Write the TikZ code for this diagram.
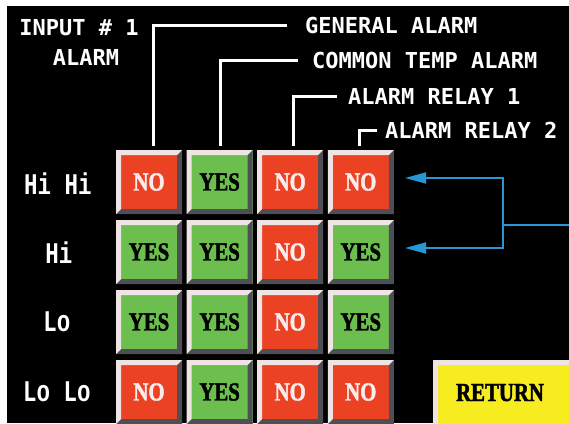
\documentclass[tikz,border=0pt]{standalone}
\usepackage{fontspec}
\usetikzlibrary{arrows.meta}
\newfontfamily\topfnt{DejaVu Sans Mono}
\newfontfamily\rowfnt{Liberation Mono}[FakeStretch=0.75]
\newfontfamily\cellfnt{Liberation Serif}[FakeStretch=0.8,FakeBold=1.6]
\definecolor{cred}{RGB}{236,66,36}
\definecolor{cgreen}{RGB}{108,190,78}
\definecolor{cyellow}{RGB}{246,236,32}
\definecolor{cblue}{RGB}{38,150,214}
\definecolor{nowhite}{RGB}{250,236,236}
\definecolor{bevlight}{RGB}{238,228,228}
\definecolor{bevdark}{RGB}{78,78,84}
\begin{document}
\begin{tikzpicture}[x=1pt,y=-1pt,
  bevel/.style={path picture={
    \fill[bevdark] (path picture bounding box.south west) -- (path picture bounding box.south east)
      -- (path picture bounding box.north east) -- ([shift={(-5,5)}]path picture bounding box.north east)
      -- ([shift={(-5,-5)}]path picture bounding box.south east) -- ([shift={(5,-5)}]path picture bounding box.south west) -- cycle;
    \fill[bevlight] (path picture bounding box.south west) -- (path picture bounding box.north west)
      -- (path picture bounding box.north east) -- ([shift={(-5,5)}]path picture bounding box.north east)
      -- ([shift={(5,5)}]path picture bounding box.north west) -- ([shift={(5,-5)}]path picture bounding box.south west) -- cycle;
  }},
  cell/.style={bevel, minimum width=66pt, minimum height=64pt, inner sep=0pt,
    font=\cellfnt\bfseries\fontsize{26}{28}\selectfont},
  yes/.style={fill=cgreen, text=black},
  no/.style={fill=cred, text=nowhite},
  toplabel/.style={inner sep=0pt, text=white, font=\topfnt\bfseries\fontsize{22}{24}\selectfont},
  rowlabel/.style={inner sep=0pt, text=white, font=\rowfnt\bfseries\fontsize{30}{32}\selectfont},
  leader/.style={draw=white, line width=3pt},
  pointer/.style={draw=cblue, line width=1.8pt},
  pointerhead/.style={pointer, -{Triangle[length=21pt,width=11pt]}, shorten >=11pt}
]
\useasboundingbox (0,0) rectangle (569,423);
\fill[white] (0,0) rectangle (569,423);
\fill[black] (7,6) rectangle (569,423);

% top labels
\node[toplabel] (inp) at (79,28) {INPUT \# 1};
\node[toplabel] (alm) at (86,57) {ALARM};
\node[toplabel, anchor=west] (lgen) at (305,25) {GENERAL ALARM};
\node[toplabel, anchor=west] (lcom) at (312,60) {COMMON TEMP ALARM};
\node[toplabel, anchor=west] (lr1) at (348,96) {ALARM RELAY 1};
\node[toplabel, anchor=west] (lr2) at (385,130) {ALARM RELAY 2};

% row labels
\node[rowlabel] (rhh) at (58,184) {Hi Hi};
\node[rowlabel] (rh) at (59,253) {Hi};
\node[rowlabel] (rl) at (57,322) {Lo};
\node[rowlabel] (rll) at (57,392) {Lo Lo};

% cells
\foreach \r/\c/\s/\t in {1/1/no/NO,1/2/yes/YES,1/3/no/NO,1/4/no/NO,
                         2/1/yes/YES,2/2/yes/YES,2/3/no/NO,2/4/yes/YES,
                         3/1/yes/YES,3/2/yes/YES,3/3/no/NO,3/4/yes/YES,
                         4/1/no/NO,4/2/yes/YES,4/3/no/NO,4/4/no/NO}
  \node[cell,\s] (c\r\c) at ({149+70.6*(\c-1)},{182+70*(\r-1)}) {\t};

% return button
\node[cell, fill=cyellow, text=black, minimum width=150pt, minimum height=70pt] (ret) at (508,395)
  {\raisebox{5pt}{\hspace*{-16pt}RETURN}};

% leader lines
\draw[leader] ([shift={(4,-4)}]c11.north) |- ([xshift=-18]lgen.west);
\draw[leader] ([shift={(1,-4)}]c12.north) |- ([xshift=-14]lcom.west);
\draw[leader] ([shift={(3,-4)}]c13.north) |- ([xshift=-11]lr1.west);
\draw[leader] ([shift={(-1,-4)}]c14.north) |- ([xshift=-8]lr2.west);

% blue pointers
\coordinate (src) at (569,225);
\coordinate (jn) at (503,225);
\draw[pointer] (src) -- (jn);
\draw[pointerhead] (jn) |- ([yshift=4]c14.east);
\draw[pointerhead] (jn) |- ([yshift=4]c24.east);
\end{tikzpicture}
\end{document}
